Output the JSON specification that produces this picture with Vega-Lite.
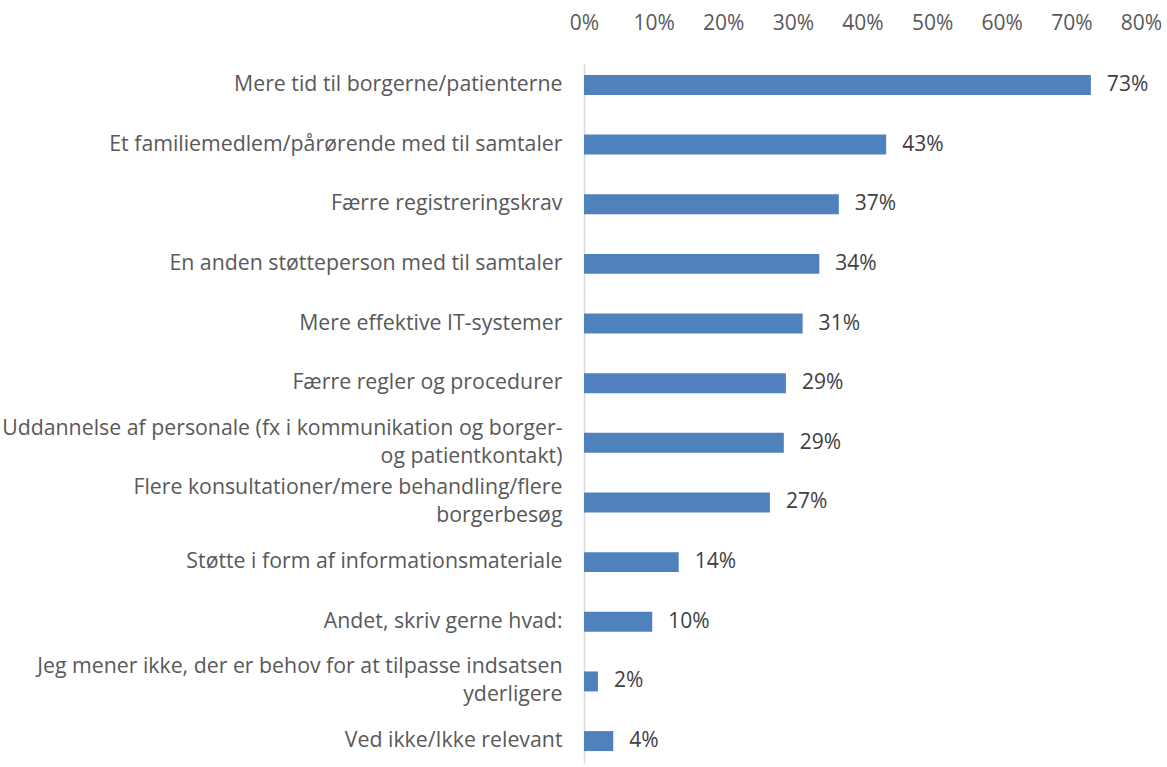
{
  "$schema": "https://vega.github.io/schema/vega-lite/v6.json",
  "autosize": {"type": "none"},
  "padding": {"left": 584, "top": 63, "right": 25, "bottom": 4},
  "width": 557,
  "height": 700,
  "background": "white",
  "config": {"view": {"stroke": null}, "font": "Open Sans"},
  "data": {"values": [
    {"category": "Mere tid til borgerne/patienterne", "value": 0.728},
    {"category": "Et familiemedlem/pårørende med til samtaler", "value": 0.434},
    {"category": "Færre registreringskrav", "value": 0.366},
    {"category": "En anden støtteperson med til samtaler", "value": 0.338},
    {"category": "Mere effektive IT-systemer", "value": 0.314},
    {"category": "Færre regler og procedurer", "value": 0.29},
    {"category": "Uddannelse af personale (fx i kommunikation og borger-|og patientkontakt)", "value": 0.287},
    {"category": "Flere konsultationer/mere behandling/flere|borgerbesøg", "value": 0.267},
    {"category": "Støtte i form af informationsmateriale", "value": 0.136},
    {"category": "Andet, skriv gerne hvad:", "value": 0.098},
    {"category": "Jeg mener ikke, der er behov for at tilpasse indsatsen|yderligere", "value": 0.02},
    {"category": "Ved ikke/Ikke relevant", "value": 0.042}
  ]},
  "encoding": {
    "y": {
      "field": "category", "type": "nominal", "sort": null, "title": null,
      "scale": {"paddingInner": 0.665, "paddingOuter": 0.2},
      "axis": {
        "ticks": false, "domain": true, "domainColor": "#D9D9D9", "domainWidth": 1.5,
        "labelExpr": "split(datum.label, '|')",
        "labelFont": "Open Sans", "labelFontSize": 21.3, "labelColor": "#595959",
        "labelPadding": 22, "labelLineHeight": 28, "labelLimit": 0,
        "labelOffset": {"condition": {"test": "indexof(datum.value, '|') >= 0", "value": -14}, "value": 0}
      }
    },
    "x": {
      "field": "value", "type": "quantitative", "title": null,
      "scale": {"domain": [0, 0.8], "nice": false},
      "axis": {
        "orient": "top", "format": ".0%", "values": [0, 0.1, 0.2, 0.3, 0.4, 0.5, 0.6, 0.7, 0.8],
        "grid": false, "ticks": false, "domain": false, "labelFlush": false,
        "labelFont": "Open Sans", "labelFontSize": 21, "labelColor": "#595959",
        "labelPadding": 30
      }
    }
  },
  "layer": [
    {"mark": {"type": "bar", "color": "#4F81BD"}},
    {"mark": {"type": "text", "align": "left", "baseline": "middle", "dx": 16, "font": "Open Sans", "fontSize": 21, "color": "#404040"},
     "encoding": {"text": {"field": "value", "type": "quantitative", "format": ".0%"}}}
  ]
}
